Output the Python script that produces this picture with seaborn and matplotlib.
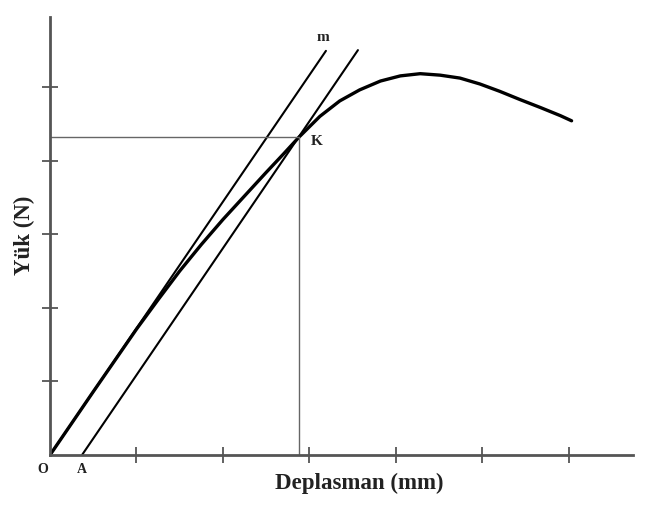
import matplotlib
matplotlib.use("Agg")
import matplotlib.pyplot as plt
import seaborn as sns
import pandas as pd

# Data (arbitrary units; ticks unlabelled)
displacement = [0, 0.5, 1.0, 1.25, 1.5, 1.75, 2.0, 2.25, 2.5, 2.7, 2.88, 3.12,
                3.35, 3.58, 3.82, 4.05, 4.28, 4.51, 4.74, 4.97, 5.20, 5.43,
                5.67, 5.90, 6.03]
load = [0, 0.86, 1.71, 2.11, 2.50, 2.86, 3.20, 3.52, 3.84, 4.09, 4.32, 4.60,
        4.81, 4.96, 5.08, 5.15, 5.18, 5.16, 5.12, 5.04, 4.94, 4.83,
        4.72, 4.61, 4.54]
tangent_x = [0, 3.19]
tangent_y = [0, 5.49]
offset_x = [0.37, 3.56]
offset_y = [0, 5.50]
k_point = (2.88, 4.32)
x_ticks = [1, 2, 3, 4, 5, 6]
y_ticks = [1, 2, 3, 4, 5]
x_label = "Deplasman (mm)"
y_label = "Yük (N)"

sns.set_theme(style="white")
plt.rcParams['font.family'] = ['Liberation Serif', 'DejaVu Serif']

fig = plt.figure(figsize=(6.57, 5.06), dpi=100)
ax = fig.add_axes([50/657, 50/506, 583/657, 438/506])

curve = pd.DataFrame({"x": displacement, "y": load})
sns.lineplot(data=curve, x="x", y="y", ax=ax, color="black", lw=2.4,
             sort=False, estimator=None)
sns.lineplot(x=tangent_x, y=tangent_y, ax=ax, color="black", lw=1.5, estimator=None)
sns.lineplot(x=offset_x, y=offset_y, ax=ax, color="black", lw=1.5, estimator=None)

kx, ky = k_point
ax.plot([0, kx], [ky, ky], color="#666666", lw=1.0)
ax.plot([kx, kx], [0, ky], color="#666666", lw=1.0)

ax.set_xlim(0, 6.74)
ax.set_ylim(0, 5.95)
ax.set_xticks(x_ticks)
ax.set_yticks(y_ticks)
ax.set_xticklabels([])
ax.set_yticklabels([])
ax.tick_params(axis="both", direction="inout", length=11, width=1.3,
               color="#555555", bottom=True, left=True)
for s in ["top", "right"]:
    ax.spines[s].set_visible(False)
for s in ["left", "bottom"]:
    ax.spines[s].set_color("#555555")
    ax.spines[s].set_linewidth(2.0)

ax.set_xlabel(x_label, fontsize=16.5, fontweight="bold", color="#222222")
ax.xaxis.label.set_va("center")
ax.xaxis.set_label_coords((359 - 50) / 583, -(483 - 456) / 438)
ax.set_ylabel(y_label, fontsize=16.5, fontweight="bold", color="#222222")
ax.yaxis.label.set_va("center")
ax.yaxis.set_label_coords((24 - 50) / 583, (456 - 235) / 438)

ax.text(-0.08, -0.18, "O", fontsize=10, fontweight="bold", ha="center", va="center",
        color="#222222", clip_on=False)
ax.text(offset_x[0], -0.18, "A", fontsize=10, fontweight="bold", ha="center", va="center",
        color="#222222", clip_on=False)
ax.text(kx + 0.2, ky - 0.05, "K", fontsize=11, fontweight="bold", ha="center", va="center",
        color="#222222")
ax.text(tangent_x[1] - 0.03, tangent_y[1] + 0.2, "m", fontsize=11, fontweight="bold",
        ha="center", va="center", color="#222222", clip_on=False)

fig.savefig("out.png", dpi=100)
